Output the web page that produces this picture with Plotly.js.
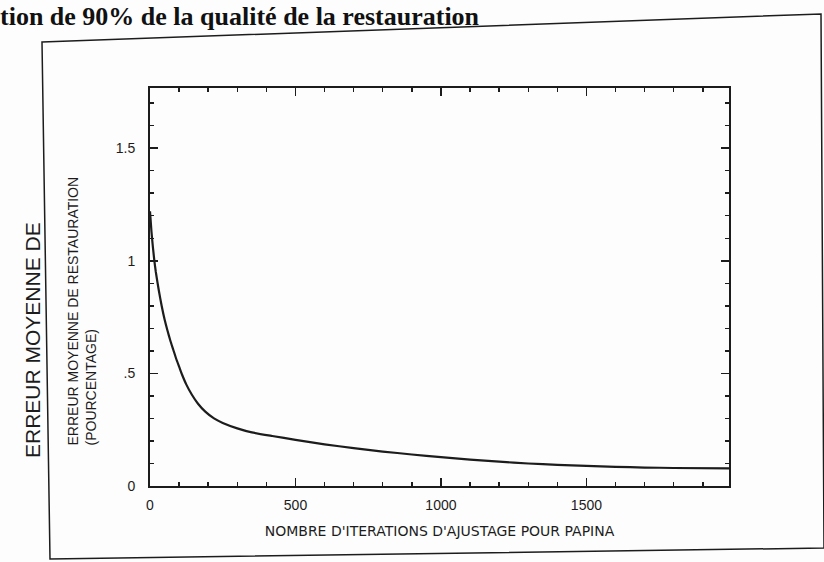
<!DOCTYPE html>
<html>
<head>
<meta charset="utf-8">
<script src="https://cdn.plot.ly/plotly-3.0.1.min.js"></script>
<style>
  html, body { margin: 0; padding: 0; background: #fdfdfd; }
  #chart { width: 824px; height: 562px; }
</style>
</head>
<body>
<div id="chart"></div>
<script>
// ---- data ----
const iterations = [0, 5, 10, 15, 20, 30, 40, 50, 60, 70, 80, 90, 100, 110, 125, 144, 165, 190, 220, 250, 300, 350, 420, 500, 600, 700, 800, 900, 1000, 1100, 1200, 1300, 1400, 1500, 1600, 1700, 1800, 1990];
const erreurMoyenne = [1.22, 1.13, 1.06, 1.0, 0.95, 0.87, 0.80, 0.74, 0.69, 0.645, 0.605, 0.565, 0.53, 0.495, 0.45, 0.405, 0.365, 0.33, 0.30, 0.28, 0.256, 0.238, 0.222, 0.205, 0.185, 0.168, 0.153, 0.14, 0.128, 0.117, 0.108, 0.10, 0.094, 0.089, 0.085, 0.082, 0.08, 0.078];

const xTickVals = [0, 500, 1000, 1500];
const xTickText = ['0', '500', '1000', '1500'];
const yTickVals = [0, 0.5, 1, 1.5];
const yTickText = ['0', '.5', '1', '1.5'];

const xTitle = "NOMBRE D'ITERATIONS D'AJUSTAGE POUR PAPINA";
const yTitle = "ERREUR MOYENNE DE RESTAURATION<br>(POURCENTAGE)";
const bigLabel = "ERREUR MOYENNE DE";
const headerText = "tion de 90% de la qualité de la restauration";

// ---- layout helpers (pixel -> paper) ----
const W = 824, H = 562;
const M = { l: 150, r: 95, t: 88, b: 76 };
const PW = W - M.l - M.r, PH = H - M.t - M.b;
const X = px => (px - M.l) / PW;
const Y = py => (H - M.b - py) / PH;

const ink = '#1c1c1c';
const sans = 'Liberation Sans, Arial, sans-serif';
const wide = 'DejaVu Sans, Liberation Sans, sans-serif';

const trace = {
  x: iterations,
  y: erreurMoyenne,
  type: 'scatter',
  mode: 'lines',
  line: { color: ink, width: 2.2, shape: 'spline', smoothing: 0.5 },
  hoverinfo: 'skip'
};

const framePath = 'M ' + X(42) + ' ' + Y(42) +
  ' L ' + X(821) + ' ' + Y(14) +
  ' L ' + X(824) + ' ' + Y(548) +
  ' L ' + X(50) + ' ' + Y(559) + ' Z';

const layout = {
  width: W, height: H,
  margin: M,
  paper_bgcolor: '#fdfdfd',
  plot_bgcolor: '#fdfdfd',
  showlegend: false,
  font: { family: sans, color: ink, size: 14 },
  xaxis: {
    range: [0, 1990],
    tickvals: xTickVals,
    ticktext: xTickText,
    ticks: 'inside', ticklen: 8, tickwidth: 1.6, tickcolor: ink,
    minor: { dtick: 100, tick0: 0, ticks: 'inside', ticklen: 4, tickwidth: 1.4, tickcolor: ink, showgrid: false },
    showline: true, linewidth: 2, linecolor: ink, mirror: 'allticks',
    showgrid: false, zeroline: false,
    tickfont: { family: sans, size: 14, color: ink },
    ticklabelstandoff: 5,
    title: { text: xTitle, font: { family: wide, size: 14, color: ink }, standoff: 14 },
    automargin: false
  },
  yaxis: {
    range: [0, 1.767],
    tickvals: yTickVals,
    ticktext: yTickText,
    ticks: 'inside', ticklen: 8, tickwidth: 1.6, tickcolor: ink,
    minor: { dtick: 0.1, tick0: 0, ticks: 'inside', ticklen: 4, tickwidth: 1.4, tickcolor: ink, showgrid: false },
    showline: true, linewidth: 2, linecolor: ink, mirror: 'allticks',
    showgrid: false, zeroline: false,
    tickfont: { family: sans, size: 14, color: ink },
    ticklabelstandoff: 10,
    automargin: false
  },
  shapes: [
    { type: 'path', xref: 'paper', yref: 'paper', path: framePath,
      line: { color: ink, width: 1.5 }, fillcolor: 'rgba(0,0,0,0)', layer: 'below' }
  ],
  annotations: [
    { text: yTitle, xref: 'paper', yref: 'paper', x: X(81), y: Y(448),
      xanchor: 'center', yanchor: 'bottom', textangle: -90, align: 'left',
      showarrow: false, font: { family: sans, size: 14, color: ink } },
    { text: bigLabel, xref: 'paper', yref: 'paper', x: X(32), y: Y(460),
      xanchor: 'center', yanchor: 'bottom', textangle: -90,
      showarrow: false, font: { family: sans, size: 21, color: ink } },
    { text: '<b>' + headerText + '</b>', xref: 'paper', yref: 'paper', x: X(-2), y: Y(0),
      xanchor: 'left', yanchor: 'top',
      showarrow: false, font: { family: 'Liberation Serif, DejaVu Serif, serif', size: 26, color: '#111' } }
  ]
};

Plotly.newPlot('chart', [trace], layout, { staticPlot: true, displayModeBar: false });
</script>
</body>
</html>
